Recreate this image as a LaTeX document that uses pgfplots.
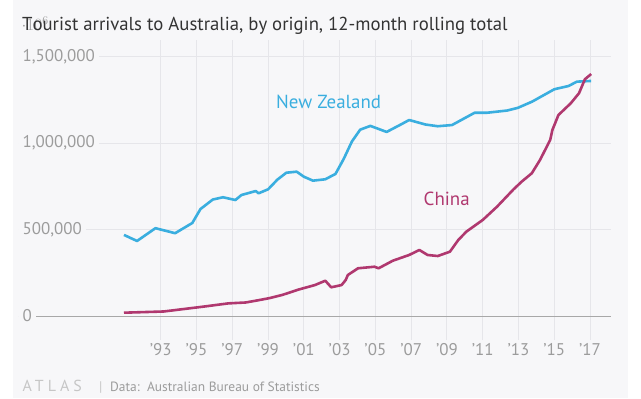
\documentclass[border=0pt]{standalone}
\usepackage{fontspec}
\setmainfont{PT Sans}
\usepackage{pgfplots}
\pgfplotsset{compat=1.18}
\definecolor{bgc}{HTML}{F7F7F9}
\definecolor{gridc}{HTML}{E6E6EA}
\definecolor{zeroc}{HTML}{A8A8A8}
\definecolor{tickc}{HTML}{9C9C9C}
\definecolor{nzc}{HTML}{3AAEDF}
\definecolor{cnc}{HTML}{B0386F}
\definecolor{titlec}{HTML}{333333}
\begin{document}
\begin{tikzpicture}[x=1bp,y=1bp]
\fill[white] (0,0) rectangle (641,398);
\fill[bgc] (13,0) rectangle (628,398);
\begin{axis}[
  at={(18.5bp,58bp)}, anchor=south west,
  scale only axis, width=592.5bp, height=300bp,
  xmin=1985.04, xmax=2018.18,
  ymin=-139000, ymax=1597000,
  axis line style={draw=none},
  major tick length=0pt,
  xtick={1993,1995,...,2017},
  xticklabels={’93,’95,’97,’99,’01,’03,’05,’07,’09,’11,’13,’15,’17},
  ytick={500000,1000000,1500000},
  yticklabels={{500,000},{1,000,000},{1,500,000}},
  extra y ticks={0},
  extra y tick labels={0},
  extra y tick style={grid style={color=zeroc, line width=0.9bp}},
  xmajorgrids, ymajorgrids,
  grid style={color=gridc, line width=0.8bp},
  tick label style={font=\fontsize{17}{17}\selectfont, text=tickc},
  /pgf/number format/assume math mode=true,
  yticklabel style={anchor=west, fill=bgc, inner xsep=4bp, inner ysep=1bp},
  xticklabel style={anchor=north, inner sep=0pt, yshift=-3bp},
  clip=false,
]
\addplot[color=nzc, line width=2.6bp, line join=round] coordinates {
(1990.94,469000) (1991.67,434000) (1992.70,508000) (1993.80,479000)
(1994.76,538000) (1995.22,619000) (1995.91,674000) (1996.48,687000)
(1997.17,671000) (1997.51,700000) (1998.31,723000) (1998.47,710000)
(1999.00,733000) (1999.52,789000) (2000.02,829000) (2000.60,835000)
(2001.00,806000) (2001.51,783000) (2002.20,791000) (2002.77,822000)
(2003.23,909000) (2003.69,1010000) (2004.15,1078000) (2004.72,1100000)
(2005.63,1065000) (2006.37,1105000) (2006.89,1134000) (2007.80,1108000)
(2008.49,1098000) (2009.29,1105000) (2010.55,1176000) (2011.24,1176000)
(2012.38,1189000) (2012.96,1204000) (2013.76,1240000) (2015.01,1312000)
(2015.81,1331000) (2016.27,1356000) (2017.07,1360000)
};
\addplot[color=cnc, line width=2.6bp, line join=round] coordinates {
(1990.94,19000) (1993.16,26000) (1995.45,55000) (1996.78,73000)
(1997.74,78000) (1998.45,91000) (1999.11,104000) (1999.80,122000)
(2000.71,153000) (2001.62,179000) (2002.20,204000) (2002.53,166000)
(2003.11,179000) (2003.34,208000) (2003.46,237000) (2004.03,276000)
(2004.95,285000) (2005.18,276000) (2005.98,320000) (2006.89,353000)
(2007.46,382000) (2007.92,353000) (2008.49,347000) (2009.17,372000)
(2009.64,440000) (2010.09,488000) (2011.01,556000) (2011.81,633000)
(2012.73,733000) (2013.18,777000) (2013.75,826000) (2014.21,903000)
(2014.78,1019000) (2014.90,1076000) (2015.24,1163000) (2015.93,1231000)
(2016.39,1289000) (2016.72,1370000) (2017.07,1400000)
};
\end{axis}
\node[anchor=base west, inner sep=0pt, text=titlec, font=\fontsize{18.8}{20}\selectfont\addfontfeatures{Kerning=Off}] at (22,368) {Tourist arrivals to Australia, by origin, 12-month rolling total};
\node[anchor=base west, inner sep=0pt, text=nzc, font=\fontsize{19}{20}\selectfont] at (276,290) {New Zealand};
\node[anchor=base west, inner sep=0pt, text=cnc, font=\fontsize{19}{20}\selectfont] at (423.5,193) {China};
\node[anchor=base west, inner sep=0pt, text=gray!45, font=\fontsize{16}{16}\selectfont\addfontfeatures{LetterSpace=25}] at (22.5,7) {ATLAS};
\node[anchor=base west, inner sep=0pt, text=gray!45, font=\fontsize{14}{14}\selectfont] at (99,7) {|};
\node[anchor=base west, inner sep=0pt, text=tickc, font=\fontsize{13.5}{14}\selectfont] at (110,7) {Data:\ \ Australian Bureau of Statistics};
\end{tikzpicture}
\end{document}
